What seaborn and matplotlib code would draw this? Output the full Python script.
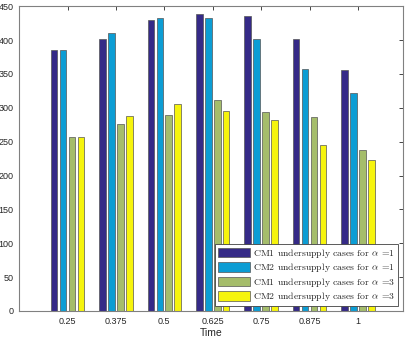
import pandas as pd
import numpy as np
import matplotlib
matplotlib.use("Agg")
import matplotlib.pyplot as plt
import seaborn as sns

times = ['0.25', '0.375', '0.5', '0.625', '0.75', '0.875', '1']
cm1_a1 = [385, 401, 429, 439, 436, 402, 356]
cm2_a1 = [385, 411, 432, 432, 401, 357, 322]
cm1_a3 = [257, 276, 289, 312, 294, 287, 237]
cm2_a3 = [257, 288, 305, 295, 282, 245, 223]

series = [r'CM1 undersupply cases for $\alpha$ =1',
          r'CM2 undersupply cases for $\alpha$ =1',
          r'CM1 undersupply cases for $\alpha$ =3',
          r'CM2 undersupply cases for $\alpha$ =3']
colors = ['#352a87', '#0c9dd4', '#a5bd6b', '#f6f40d']

rows = []
for name, vals in zip(series, [cm1_a1, cm2_a1, cm1_a3, cm2_a3]):
    for t, v in zip(times, vals):
        rows.append({'Time': t, 'count': v, 'series': name})
df = pd.DataFrame(rows)

sns.set_style("white")
plt.rcParams['font.family'] = ['Liberation Sans', 'DejaVu Sans']
plt.rcParams['mathtext.fontset'] = 'cm'

fig = plt.figure(figsize=(4.07, 3.41), dpi=100)
ax = fig.add_axes([0.047, 0.088, 0.943, 0.894])

sns.barplot(data=df, x='Time', y='count', hue='series', order=times,
            hue_order=series, palette=colors, saturation=1, width=0.74,
            gap=0.26, edgecolor='#555555', linewidth=0.5, ax=ax)

ax.set_xlim(-1, 6.93)
ax.set_ylim(0, 450)
ax.set_yticks(np.arange(0, 451, 50))
ax.set_xlabel('Time', fontsize=7.5, color='#262626', labelpad=2)
ax.set_ylabel('')
ax.tick_params(direction='in', length=3, width=0.6, colors='#262626',
               labelsize=6.5, top=True, right=True, pad=4)
for s in ax.spines.values():
    s.set_color('#808080')
    s.set_linewidth(0.8)

leg = ax.legend(loc='lower right', prop={'family': 'cmr10', 'size': 7},
                handlelength=3.3, handleheight=1.1, handletextpad=0.3,
                labelspacing=0.15, borderpad=0.3, fancybox=False,
                edgecolor='#404040', framealpha=1, borderaxespad=0.5)
leg.get_frame().set_linewidth(0.6)

fig.savefig('out.png', dpi=100)
